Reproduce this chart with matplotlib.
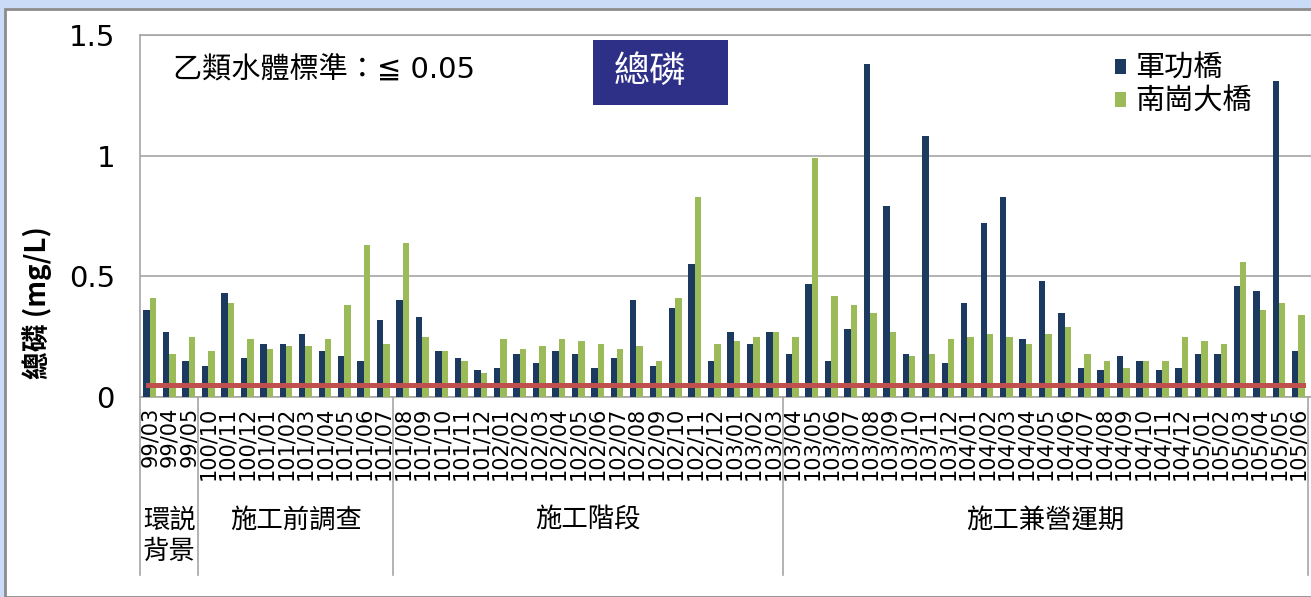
import matplotlib.pyplot as plt
from matplotlib.patches import Rectangle
import numpy as np

dates = ['99/03', '99/04', '99/05',
         '100/10', '100/11', '100/12', '101/01', '101/02', '101/03', '101/04', '101/05', '101/06', '101/07',
         '101/08', '101/09', '101/10', '101/11', '101/12', '102/01', '102/02', '102/03', '102/04', '102/05',
         '102/06', '102/07', '102/08', '102/09', '102/10', '102/11', '102/12', '103/01', '103/02', '103/03',
         '103/04', '103/05', '103/06', '103/07', '103/08', '103/09', '103/10', '103/11', '103/12', '104/01',
         '104/02', '104/03', '104/04', '104/05', '104/06', '104/07', '104/08', '104/09', '104/10', '104/11',
         '104/12', '105/01', '105/02', '105/03', '105/04', '105/05', '105/06']

jungong = [0.36, 0.27, 0.15, 0.13, 0.43, 0.16, 0.22, 0.22, 0.26, 0.19,
           0.17, 0.15, 0.32, 0.40, 0.33, 0.19, 0.16, 0.11, 0.12, 0.18,
           0.14, 0.19, 0.18, 0.12, 0.16, 0.40, 0.13, 0.37, 0.55, 0.15,
           0.27, 0.22, 0.27, 0.18, 0.47, 0.15, 0.28, 1.38, 0.79, 0.18,
           1.08, 0.14, 0.39, 0.72, 0.83, 0.24, 0.48, 0.35, 0.12, 0.11,
           0.17, 0.15, 0.11, 0.12, 0.18, 0.18, 0.46, 0.44, 1.31, 0.19]
nangang = [0.41, 0.18, 0.25, 0.19, 0.39, 0.24, 0.20, 0.21, 0.21, 0.24,
           0.38, 0.63, 0.22, 0.64, 0.25, 0.19, 0.15, 0.10, 0.24, 0.20,
           0.21, 0.24, 0.23, 0.22, 0.20, 0.21, 0.15, 0.41, 0.83, 0.22,
           0.23, 0.25, 0.27, 0.25, 0.99, 0.42, 0.38, 0.35, 0.27, 0.17,
           0.18, 0.24, 0.25, 0.26, 0.25, 0.22, 0.26, 0.29, 0.18, 0.15,
           0.12, 0.15, 0.15, 0.25, 0.23, 0.22, 0.56, 0.36, 0.39, 0.34]
standard = 0.05

groups = ['環説\n背景', '施工前調查', '施工階段', '施工兼營運期']
group_sizes = [3, 10, 20, 27]

cjk = ['Noto Sans CJK TC', 'DejaVu Sans']
navy = '#1C3A60'
green = '#9BBB59'
red = '#C0504D'
gray = '#A6A6A6'

fig = plt.figure(figsize=(13.11, 5.97), dpi=100)
fig.patch.set_facecolor('#C9DBF6')
# white slide panel with gray border
fig.patches.append(Rectangle((5 / 1311, 0), 1.0, 1 - 9 / 597, transform=fig.transFigure,
                             facecolor='white', edgecolor='#8C8C8C', linewidth=2, zorder=-10))

ax = fig.add_axes([140 / 1311, 200 / 597, 1171 / 1311, 362 / 597])
ax.set_facecolor('white')
ax.set_zorder(1)

x = np.arange(len(dates))
w = 0.33
ax.bar(x - w / 2, jungong, w, color=navy, label='軍功橋', zorder=3)
ax.bar(x + w / 2, nangang, w, color=green, label='南崗大橋', zorder=3)
ax.plot([x[0] - 0.1, x[-1] + 0.25], [standard, standard], color=red, linewidth=3.6, zorder=4)

ax.set_xlim(-0.5, -0.5 + 1171 / 19.47)
ax.set_ylim(0, 1.5)
ax.set_yticks([0, 0.5, 1, 1.5])
ax.set_yticklabels(['0', '0.5', '1', '1.5'], fontsize=21)
ax.tick_params(axis='y', length=0, pad=18)
ax.yaxis.grid(True, color=gray, linewidth=1.2, zorder=0)
ax.set_axisbelow(True)
ax.set_xticks(x)
ax.set_xticklabels(dates, rotation=90, fontsize=15, va='top')
ax.tick_params(axis='x', length=0, pad=7)
for s in ['top', 'left', 'bottom']:
    ax.spines[s].set_color(gray)
    ax.spines[s].set_linewidth(1.2)
ax.spines['right'].set_visible(False)

ax.set_ylabel('總磷 (mg/L)', family=cjk, fontsize=20, fontweight='bold')
ax.yaxis.set_label_coords(-0.075, 0.262)

# group separators and labels below the date ticks
bounds = np.concatenate([[0], np.cumsum(group_sizes)]) - 0.5
for b in bounds:
    ax.plot([b, b], [0, -0.492], color=gray, linewidth=1.2, transform=ax.get_xaxis_transform(),
            clip_on=False)
for i, g in enumerate(groups):
    mid = (bounds[i] + bounds[i + 1]) / 2
    ax.text(mid, -0.303, g, transform=ax.get_xaxis_transform(), ha='center', va='top',
            family=cjk, fontsize=19, linespacing=1.2)

ax.text(0.028, 0.905, '乙類水體標準：≦ 0.05', transform=ax.transAxes,
        family=['DejaVu Sans', 'Noto Sans CJK TC'], fontsize=21, va='center', ha='left')

# title box
fig.patches.append(Rectangle((593 / 1311, 1 - 105 / 597), 135 / 1311, 65 / 597,
                             transform=fig.transFigure, facecolor='#2E3087', edgecolor='none', zorder=5))
fig.text(650 / 1311, 1 - 72 / 597, '總磷', family=cjk, fontsize=26, fontweight='medium',
         color='white', ha='center', va='center', zorder=6)

ax.legend(loc='upper left', bbox_to_anchor=(0.81, 1.02), frameon=False,
          prop={'family': cjk, 'size': 21}, handlelength=0.4, handleheight=0.4,
          handletextpad=0.3, labelspacing=0.1)

fig.savefig('out.png', dpi=100, facecolor=fig.get_facecolor())
